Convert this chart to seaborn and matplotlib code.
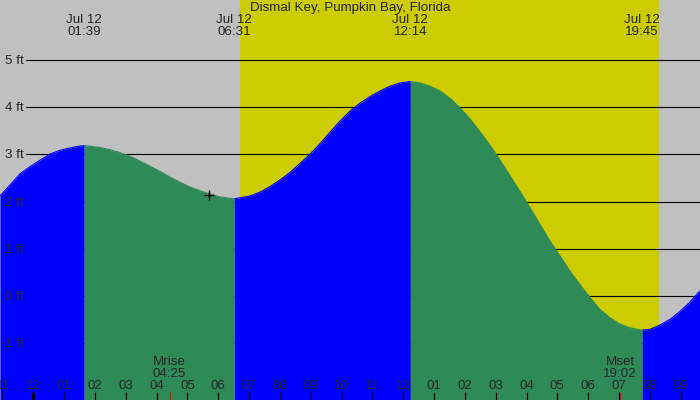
import matplotlib
matplotlib.use("Agg")
from matplotlib import pyplot as plt
import matplotlib.transforms as mtransforms
import pandas as pd
import seaborn as sns

## Tide curve (hours after midnight Jul 12, height in ft)
hours = [-1.08, -0.76, -0.43, -0.11, 0.22, 0.54, 0.87, 1.19, 1.52, 1.65,
         2.16, 2.49, 2.81, 3.14, 3.46, 3.79, 4.11, 4.43, 4.76, 5.08,
         5.41, 5.73, 6.06, 6.38, 6.52, 7.03, 7.35, 7.68, 8.00, 8.33,
         8.65, 8.98, 9.30, 9.62, 9.95, 10.27, 10.60, 10.92, 11.25, 11.57,
         11.90, 12.23, 12.54, 12.87, 13.19, 13.52, 13.84, 14.17, 14.49, 14.82,
         15.14, 15.46, 15.79, 16.11, 16.44, 16.76, 17.09, 17.41, 17.74, 18.06,
         18.38, 18.71, 19.03, 19.36, 19.75, 20.01, 20.33, 20.65, 20.98, 21.30,
         21.63]
height_ft = [2.12, 2.35, 2.59, 2.74, 2.88, 3.01, 3.09, 3.14, 3.18, 3.19,
             3.15, 3.10, 3.04, 2.96, 2.86, 2.75, 2.64, 2.52, 2.41, 2.31,
             2.23, 2.16, 2.10, 2.07, 2.06, 2.12, 2.20, 2.32, 2.46, 2.62,
             2.81, 3.01, 3.23, 3.47, 3.71, 3.92, 4.09, 4.23, 4.35, 4.45,
             4.52, 4.55, 4.52, 4.45, 4.35, 4.19, 3.99, 3.75, 3.48, 3.19,
             2.88, 2.55, 2.21, 1.87, 1.51, 1.16, 0.84, 0.52, 0.23, -0.04,
             -0.29, -0.47, -0.60, -0.68, -0.73, -0.71, -0.62, -0.50, -0.33, -0.13,
             0.11]

## High / low tide events
tide_date = "Jul 12"
tide_times = ["01:39", "06:31", "12:14", "19:45"]
tide_hours = [1.65, 6.52, 12.23, 19.75]

## Sun and moon
sunrise, sunset = 6.70, 20.30
moon_names = ["Mrise", "Mset"]
moon_times = ["04:25", "19:02"]
moon_hours = [4.42, 19.03]

## Current time marker
now_hour, now_ft = 5.70, 2.14

## Axis labels
hour_ticks = list(range(-1, 22))
hour_labels = ["11", "12", "01", "02", "03", "04", "05", "06", "07", "08", "09", "10",
               "11", "12", "01", "02", "03", "04", "05", "06", "07", "08", "09"]
ft_levels = [-1, 0, 1, 2, 3, 4, 5]
ft_labels = ["-1 ft", "0 ft", "1 ft", "2 ft", "3 ft", "4 ft", "5 ft"]

title = "Dismal Key, Pumpkin Bay, Florida"

## Colours
night = "#c0c0c0"
day = "#cccc00"
rising = "#0000ff"
falling = "#2e8b57"

## Split the curve into rising / falling segments at each tide event
df = pd.DataFrame({"hour": hours, "ft": height_ft})
edges = [hours[0]] + tide_hours + [hours[-1]]
parts = []
for i in range(len(edges) - 1):
    seg = df[(df.hour >= edges[i]) & (df.hour <= edges[i + 1])].copy()
    seg["segment"] = i
    seg["phase"] = "rising" if seg.ft.iloc[-1] > seg.ft.iloc[0] else "falling"
    parts.append(seg)
curve = pd.concat(parts, ignore_index=True)

sns.set_theme(style="white")
plt.rcParams["font.family"] = ["Liberation Sans", "DejaVu Sans"]
fs = 9.6

fig = plt.figure(figsize=(7, 4), dpi=100, facecolor=night)
ax = fig.add_axes([0, 0, 1, 1])
ax.set_facecolor(night)
ymin, ymax = -2.212, 6.28
ax.set_xlim(-1.08, 21.625)
ax.set_ylim(ymin, ymax)
ax.set_axis_off()

ax.axvspan(sunrise, sunset, color=day, lw=0, zorder=0)

for lv in ft_levels:
    ax.axhline(lv, xmin=26 / 700, xmax=1, color="black", lw=0.8, zorder=1)

palette = {"rising": rising, "falling": falling}
for seg_id, seg in curve.groupby("segment"):
    ax.fill_between(seg.hour, ymin, seg.ft, color=palette[seg.phase.iloc[0]],
                    lw=0, zorder=2)
sns.lineplot(data=curve, x="hour", y="ft", hue="phase", units="segment",
             estimator=None, palette=palette, legend=False, lw=0.8, ax=ax,
             zorder=3)

sns.scatterplot(x=[now_hour], y=[now_ft], marker="+", s=45, color="black",
                linewidth=1, ax=ax, zorder=6)

# pixel rows from the top, as axes fractions
def ypix(p):
    return 1 - p / 400

xdata_yaxes = mtransforms.blended_transform_factory(ax.transData, ax.transAxes)
xaxes_ydata = mtransforms.blended_transform_factory(ax.transAxes, ax.transData)

for lv, lab in zip(ft_levels, ft_labels):
    ax.text(24 / 700, lv - 0.02, lab, transform=xaxes_ydata, ha="right",
            va="center", fontsize=fs, zorder=5)

for h, lab in zip(hour_ticks, hour_labels):
    ax.vlines(h, 0, 8 / 400, transform=xdata_yaxes, color="black",
              lw=2.2 if h == 0 else 0.8, zorder=4)
    ax.text(h, ypix(386), lab, transform=xdata_yaxes, ha="center",
            va="center", fontsize=fs, zorder=5)

for h, name, t in zip(moon_hours, moon_names, moon_times):
    ax.vlines(h, 0, 8 / 400, transform=xdata_yaxes, color="red", lw=0.8,
              zorder=4)
    ax.text(h, ypix(362), name, transform=xdata_yaxes, ha="center",
            va="center", fontsize=fs, zorder=5)
    ax.text(h, ypix(374), t, transform=xdata_yaxes, ha="center",
            va="center", fontsize=fs, zorder=5)

for h, t in zip(tide_hours, tide_times):
    ax.text(h, ypix(20), tide_date, transform=xdata_yaxes, ha="center",
            va="center", fontsize=fs, zorder=5)
    ax.text(h, ypix(32), t, transform=xdata_yaxes, ha="center",
            va="center", fontsize=fs, zorder=5)

ax.text(0.5, ypix(7.5), title, transform=ax.transAxes, ha="center",
        va="center", fontsize=fs, zorder=5)

fig.savefig("out.png", dpi=100, facecolor=night)
